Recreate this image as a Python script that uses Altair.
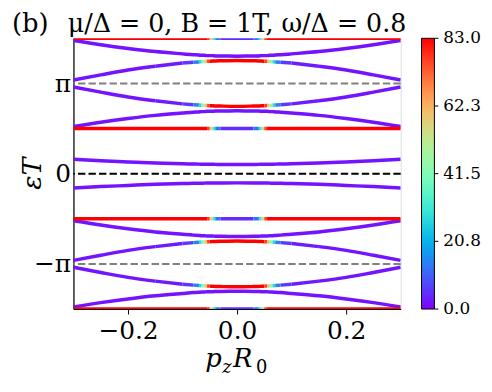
import altair as alt
import pandas as pd

PI = 3.141592653589793

# momentum grid (p_z R_0)
X = [-0.30, -0.25, -0.20, -0.15, -0.10, -0.08, -0.07, -0.065, -0.06, -0.055, -0.05, -0.045, -0.04, -0.03, 0.0,
     0.03, 0.04, 0.045, 0.05, 0.055, 0.06, 0.065, 0.07, 0.08, 0.10, 0.15, 0.20, 0.25, 0.30]

# quasi-energy bands (eps*T)
A = [4.64, 4.49, 4.36, 4.25, 4.17, 4.14, 4.13, 4.12, 4.12, 4.11, 4.11, 4.11, 4.10, 4.10, 4.09,
     4.10, 4.10, 4.11, 4.11, 4.11, 4.12, 4.12, 4.13, 4.14, 4.17, 4.25, 4.36, 4.49, 4.64]
B = [3.26, 3.44, 3.61, 3.74, 3.85, 3.88, 3.89, 3.90, 3.905, 3.91, 3.915, 3.92, 3.925, 3.93, 3.94,
     3.93, 3.925, 3.92, 3.915, 3.91, 3.905, 3.90, 3.89, 3.88, 3.85, 3.74, 3.61, 3.44, 3.26]
C = [3.02, 2.84, 2.67, 2.54, 2.43, 2.40, 2.39, 2.38, 2.378, 2.373, 2.368, 2.363, 2.358, 2.353, 2.343,
     2.353, 2.358, 2.363, 2.368, 2.373, 2.378, 2.38, 2.39, 2.40, 2.43, 2.54, 2.67, 2.84, 3.02]
D = [1.64, 1.79, 1.92, 2.03, 2.11, 2.14, 2.15, 2.16, 2.16, 2.17, 2.17, 2.17, 2.18, 2.18, 2.19,
     2.18, 2.18, 2.17, 2.17, 2.17, 2.16, 2.16, 2.15, 2.14, 2.11, 2.03, 1.92, 1.79, 1.64]
E = [0.50, 0.45, 0.41, 0.37, 0.345, 0.336, 0.332, 0.331, 0.329, 0.328, 0.326, 0.325, 0.324, 0.322, 0.32,
     0.322, 0.324, 0.325, 0.326, 0.328, 0.329, 0.331, 0.332, 0.336, 0.345, 0.37, 0.41, 0.45, 0.50]
F = [-0.50, -0.45, -0.41, -0.37, -0.345, -0.336, -0.332, -0.331, -0.329, -0.328, -0.326, -0.325, -0.324, -0.322, -0.32,
     -0.322, -0.324, -0.325, -0.326, -0.328, -0.329, -0.331, -0.332, -0.336, -0.345, -0.37, -0.41, -0.45, -0.50]
G = [-1.64, -1.79, -1.92, -2.03, -2.11, -2.14, -2.15, -2.16, -2.16, -2.17, -2.17, -2.17, -2.18, -2.18, -2.19,
     -2.18, -2.18, -2.17, -2.17, -2.17, -2.16, -2.16, -2.15, -2.14, -2.11, -2.03, -1.92, -1.79, -1.64]
H = [-3.02, -2.84, -2.67, -2.54, -2.43, -2.40, -2.39, -2.38, -2.378, -2.373, -2.368, -2.363, -2.358, -2.353, -2.343,
     -2.353, -2.358, -2.363, -2.368, -2.373, -2.378, -2.38, -2.39, -2.40, -2.43, -2.54, -2.67, -2.84, -3.02]
I = [-3.26, -3.44, -3.61, -3.74, -3.85, -3.88, -3.89, -3.90, -3.905, -3.91, -3.915, -3.92, -3.925, -3.93, -3.94,
     -3.93, -3.925, -3.92, -3.915, -3.91, -3.905, -3.90, -3.89, -3.88, -3.85, -3.74, -3.61, -3.44, -3.26]
J = [-4.64, -4.49, -4.36, -4.25, -4.17, -4.14, -4.13, -4.12, -4.12, -4.11, -4.11, -4.11, -4.10, -4.10, -4.09,
     -4.10, -4.10, -4.11, -4.11, -4.11, -4.12, -4.12, -4.13, -4.14, -4.17, -4.25, -4.36, -4.49, -4.64]
FLAT_LEVELS = [4.712389, 1.570796, -1.570796, -4.712389]

# colour value along each band
C_PURPLE = [2, 2, 2, 2, 2, 2, 2, 2, 2, 2, 2, 2, 2, 2, 2, 2, 2, 2, 2, 2, 2, 2, 2, 2, 2, 2, 2, 2, 2]
C_CENTER_RED = [2, 2, 2, 2, 4, 8, 20, 35, 50, 70, 83, 83, 83, 83, 83,
                83, 83, 83, 83, 70, 50, 35, 20, 8, 4, 2, 2, 2, 2]
C_FLAT = [83, 83, 83, 83, 83, 83, 83, 83, 83, 83, 70, 40, 20, 6, 3,
          6, 20, 40, 70, 83, 83, 83, 83, 83, 83, 83, 83, 83, 83]

CURVES = [(A, C_PURPLE), (B, C_CENTER_RED), (C, C_CENTER_RED), (D, C_PURPLE), (E, C_PURPLE),
          (F, C_PURPLE), (G, C_PURPLE), (H, C_CENTER_RED), (I, C_CENTER_RED), (J, C_PURPLE)]
for lvl in FLAT_LEVELS:
    CURVES.append(([lvl] * len(X), C_FLAT))

# colour bar
CB_DOMAIN = [0, 10.375, 20.75, 31.125, 41.5, 51.875, 62.25, 72.625, 83]
CB_RANGE = ["#8000ff", "#4062fa", "#00b4ec", "#40ecd4", "#80ffb4", "#bfec8e", "#ffb462", "#ff6232", "#ff0000"]
CB_TICKS = [0, 20.75, 41.5, 62.25, 83]
CB_LABELS = ["0.0", "20.8", "41.5", "62.3", "83.0"]

DASH_GRAY = [PI, -PI]
DASH_BLACK = [0.0]

TITLE = "μ/Δ = 0, B = 1T, ω/Δ = 0.8"
PANEL = "(b)"

rows = []
run = 0
for ys, cs in CURVES:
    prev = None
    for i in range(len(X) - 1):
        col = (cs[i] + cs[i + 1]) / 2
        if col != prev:
            run += 1
            rows.append({"x": X[i], "y": ys[i], "c": col, "run": run})
            prev = col
        rows.append({"x": X[i + 1], "y": ys[i + 1], "c": col, "run": run})
df = pd.DataFrame(rows)

FONT = "DejaVu Serif"
W, H = 330, 273
CBX = 351      # colour bar left edge (px from plot left)
CBW = 13       # colour bar thickness

xscale = alt.Scale(domain=[-0.3, 0.3], nice=False, zero=False)
yscale = alt.Scale(domain=[-4.712389, 4.712389], nice=False, zero=False)

bands = alt.Chart(df).mark_line(strokeWidth=3.5, strokeCap="butt", clip=True, interpolate="monotone").encode(
    x=alt.X("x:Q", scale=xscale,
            axis=alt.Axis(values=[-0.2, 0.0, 0.2], format=".1f", title=None, grid=False,
                          labelFont=FONT, labelFontSize=25, labelColor="black",
                          tickSize=5, tickColor="black", tickWidth=1, labelPadding=5,
                          domainColor="black", domainWidth=1.2)),
    y=alt.Y("y:Q", scale=yscale,
            axis=alt.Axis(values=[-PI, 0.0, PI], title=None, grid=False, ticks=False,
                          labelExpr="datum.value > 1 ? 'π' : (datum.value < -1 ? '−π' : '0')",
                          labelFont=FONT, labelFontSize=25, labelColor="black", labelPadding=3,
                          domainColor="black", domainWidth=1.2)),
    color=alt.Color("c:Q",
                    scale=alt.Scale(domain=CB_DOMAIN, range=CB_RANGE, interpolate="rgb"),
                    legend=alt.Legend(orient="none", legendX=CBX, legendY=0, direction="vertical",
                                      gradientLength=H, gradientThickness=CBW, title=None,
                                      values=CB_TICKS, labelOpacity=0, labelFontSize=1,
                                      gradientStrokeColor="black", gradientStrokeWidth=1,
                                      padding=0, labelOverlap=False)),
    detail="run:N",
)

gray = alt.Chart(pd.DataFrame({"y": DASH_GRAY})).mark_rule(
    color="#808080", strokeWidth=2, strokeDash=[7.4, 3.2]).encode(
    y=alt.Y("y:Q", scale=yscale, axis=None))
black = alt.Chart(pd.DataFrame({"y": DASH_BLACK})).mark_rule(
    color="black", strokeWidth=2, strokeDash=[7.4, 3.2]).encode(
    y=alt.Y("y:Q", scale=yscale, axis=None))

cbscale = alt.Scale(domain=[0, 83], nice=False, zero=False)
cb_df = pd.DataFrame({"v": CB_TICKS, "lab": CB_LABELS})
cb_labels = alt.Chart(cb_df).mark_text(
    font=FONT, fontSize=17, align="left", baseline="middle", color="black").encode(
    y=alt.Y("v:Q", scale=cbscale, axis=None), text="lab:N", x=alt.value(CBX + CBW + 9))
cb_ticks = alt.Chart(cb_df).mark_rule(color="black", strokeWidth=1).encode(
    y=alt.Y("v:Q", scale=cbscale, axis=None), x=alt.value(CBX + CBW), x2=alt.value(CBX + CBW + 4))


def txt(s, x, y, size, style="normal", align="left", baseline="alphabetic", angle=0):
    return alt.Chart(pd.DataFrame({"t": [s]})).mark_text(
        font=FONT, fontSize=size, fontStyle=style, align=align, baseline=baseline,
        angle=angle, color="black").encode(text="t:N", x=alt.value(x), y=alt.value(y))


texts = [
    txt(TITLE, W / 2, -6, 25.5, align="center"),
    txt(PANEL, -62, -6, 26),
    txt("εT", -41, H / 2, 27, style="italic", align="center", baseline="middle", angle=270),
    txt("p", 133, 331, 26, style="italic"),
    txt("z", 150, 338, 18, style="italic"),
    txt("R", 161, 331, 26, style="italic"),
    txt("0", 184, 338, 18),
]

chart = alt.layer(bands, gray, black, cb_ticks, cb_labels, *texts).resolve_scale(
    y="independent"
).properties(
    width=W, height=H,
    padding={"left": 66, "top": 29, "right": 84, "bottom": 70},
    autosize=alt.AutoSizeParams(type="none"),
).configure_view(stroke="black", strokeWidth=1.2).configure(background="white")

chart.save("out.html", embed_options={"renderer": "svg", "actions": False})
